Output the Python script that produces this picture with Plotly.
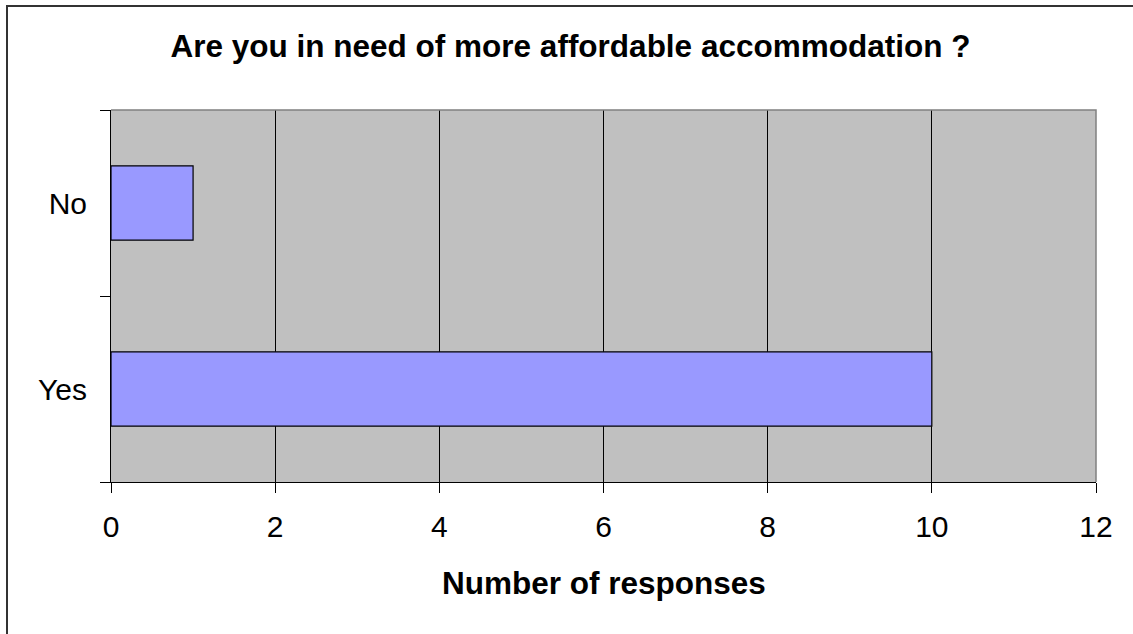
import plotly.graph_objects as go

# Survey answers and counts
answers = ["Yes", "No"]
responses = [10, 1]
x_ticks = [0, 2, 4, 6, 8, 10, 12]

title_text = "Are you in need of more affordable accommodation ?"
x_title = "Number of responses"

W, H = 1133, 634
L, R, T, B = 111, 37, 110, 152
plot_w = W - L - R
plot_h = H - T - B

def px_to_paper_x(px):
    return (px - L) / plot_w

def px_to_paper_y(py):
    return (H - B - py) / plot_h

font_family = "Liberation Sans, Arial, sans-serif"

fig = go.Figure(
    go.Bar(
        x=responses,
        y=answers,
        orientation="h",
        width=0.4,
        marker=dict(color="#9999FF", line=dict(color="#000000", width=1.2)),
        hoverinfo="x+y",
    )
)

fig.update_layout(
    width=W,
    height=H,
    margin=dict(l=L, r=R, t=T, b=B, pad=0),
    paper_bgcolor="#FFFFFF",
    plot_bgcolor="#C0C0C0",
    showlegend=False,
    font=dict(family=font_family, color="#000000", size=30),
    title=dict(
        text="<b>" + title_text + "</b>",
        x=570.5 / W,
        xanchor="center",
        y=1 - 46 / H,
        yanchor="middle",
        font=dict(size=31.5, family=font_family, color="#000000"),
    ),
)

fig.update_xaxes(
    range=[0, 12],
    tickvals=x_ticks,
    ticktext=[str(v) for v in x_ticks],
    showgrid=True,
    gridcolor="#000000",
    gridwidth=1,
    zeroline=False,
    showline=True,
    linecolor="#000000",
    linewidth=1,
    ticks="outside",
    ticklen=10,
    tickcolor="#000000",
    tickwidth=1,
    ticklabelstandoff=8,
    tickfont=dict(size=30),
    fixedrange=True,
)

fig.update_yaxes(
    type="category",
    categoryorder="array",
    categoryarray=answers,
    showgrid=False,
    zeroline=False,
    showline=True,
    linecolor="#000000",
    linewidth=1,
    ticks="outside",
    tickson="boundaries",
    ticklen=10,
    tickcolor="#000000",
    tickwidth=1,
    ticklabelstandoff=17,
    tickfont=dict(size=30),
    fixedrange=True,
)

# Axis title below the tick labels
fig.add_annotation(
    text="<b>" + x_title + "</b>",
    xref="paper",
    yref="paper",
    x=0.5,
    y=px_to_paper_y(583),
    xanchor="center",
    yanchor="middle",
    showarrow=False,
    font=dict(size=31.5, family=font_family, color="#000000"),
)

# Grey frame on top and right of the plotting area
fig.add_shape(
    type="path",
    xref="paper",
    yref="paper",
    path="M 0 1 L 1 1 L 1 0",
    line=dict(color="#808080", width=1.5),
    layer="above",
)

# Outer chart border
fig.add_shape(
    type="rect",
    xref="paper",
    yref="paper",
    x0=px_to_paper_x(7),
    x1=px_to_paper_x(1140),
    y0=px_to_paper_y(640),
    y1=px_to_paper_y(6),
    line=dict(color="#333333", width=2),
    fillcolor="rgba(0,0,0,0)",
    layer="above",
)

fig.write_html("out.html")
